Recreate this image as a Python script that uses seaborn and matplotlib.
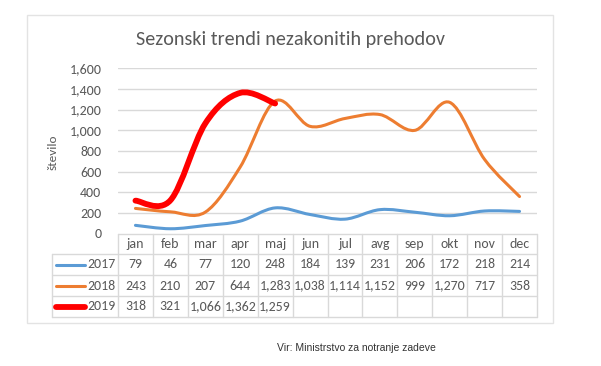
import numpy as np
import pandas as pd
import seaborn as sns
import matplotlib.pyplot as plt
from matplotlib.path import Path
from matplotlib.patches import PathPatch, Rectangle

# data
months = ["jan", "feb", "mar", "apr", "maj", "jun", "jul", "avg", "sep", "okt", "nov", "dec"]
years = ["2017", "2018", "2019"]
v2017 = [79, 46, 77, 120, 248, 184, 139, 231, 206, 172, 218, 214]
v2018 = [243, 210, 207, 644, 1283, 1038, 1114, 1152, 999, 1270, 717, 358]
v2019 = [318, 321, 1066, 1362, 1259]
yticks = [0, 200, 400, 600, 800, 1000, 1200, 1400, 1600]

colors = {"2017": "#5B9BD5", "2018": "#ED7D31", "2019": "#FF0000"}
widths = {"2017": 2.2, "2018": 2.2, "2019": 4.2}
GRAY = "#595959"
GRID = "#D9D9D9"

sns.set_theme(style="white")
plt.rcParams['font.family'] = ['Carlito', 'Lato', 'DejaVu Sans']

rows = []
for yr, vals in zip(years, [v2017, v2018, v2019]):
    for m, v in zip(months, vals):
        rows.append({"year": yr, "month": m, "value": v})
df = pd.DataFrame(rows)
df["x"] = df["month"].map({m: i for i, m in enumerate(months)})

W, H = 601, 366
fig = plt.figure(figsize=(W / 100, H / 100), dpi=100)

# plot area in pixels
L, R, T, B = 118, 537, 68.3, 233.5
ax = fig.add_axes([L / W, 1 - B / H, (R - L) / W, (B - T) / H])
ax.set_xlim(-0.5, len(months) - 0.5)
ax.set_ylim(0, 1600)
ax.set_yticks(yticks)
ax.set_yticklabels([f"{t:,}" for t in yticks], color=GRAY, fontsize=10)
ax.set_xticks([])
ax.tick_params(axis="y", length=0, pad=12)
for s in ax.spines.values():
    s.set_visible(False)
for t in yticks[1:]:
    ax.axhline(t, color=GRID, lw=1, zorder=0)


def smooth_path(xs, ys):
    # excel-like smoothed line: bezier segments through the data points
    pts = np.column_stack([xs, ys]).astype(float)
    n = len(pts)
    verts = [pts[0]]
    codes = [Path.MOVETO]
    for i in range(n - 1):
        p0 = pts[i - 1] if i > 0 else pts[i]
        p1 = pts[i]
        p2 = pts[i + 1]
        p3 = pts[i + 2] if i + 2 < n else pts[i + 1]
        c1 = p1 + (p2 - p0) / 6
        c2 = p2 - (p3 - p1) / 6
        verts += [c1, c2, p2]
        codes += [Path.CURVE4] * 3
    return Path(verts, codes)


for yr in years:
    d = df[df["year"] == yr]
    patch = PathPatch(smooth_path(d["x"], d["value"]), fill=False,
                      edgecolor=colors[yr], lw=widths[yr], capstyle="round",
                      joinstyle="round", zorder=3)
    ax.add_patch(patch)

ax.set_ylabel("")
fig.text(53 / W, 1 - 152 / H, "število", rotation=90, ha="center", va="center",
         color=GRAY, fontsize=9.5)

fig.text(290 / W, 1 - 40 / H, "Sezonski trendi nezakonitih prehodov",
         ha="center", va="center", color=GRAY, fontsize=14.5)

# overlay in pixel coordinates for border and data table
ov = fig.add_axes([0, 0, 1, 1], zorder=-1)
ov.set_xlim(0, W)
ov.set_ylim(H, 0)
ov.axis("off")
ov.patch.set_alpha(0)
ov.add_patch(Rectangle((27, 15), 553 - 27, 323 - 15, fill=False, edgecolor="#E3E3E3", lw=1))

tab = fig.add_axes([0, 0, 1, 1], zorder=5)
tab.set_xlim(0, W)
tab.set_ylim(H, 0)
tab.axis("off")
tab.patch.set_alpha(0)

col_w = (R - L) / len(months)
row_y = [234, 254, 275, 296, 317]
leg_l = 52
# horizontal lines
tab.plot([L, R], [row_y[0], row_y[0]], color=GRID, lw=1)
for y in row_y[1:]:
    tab.plot([leg_l, R], [y, y], color=GRID, lw=1)
# vertical lines
for i in range(len(months) + 1):
    x = L + i * col_w
    tab.plot([x, x], [row_y[0], row_y[-1]], color=GRID, lw=1)
tab.plot([leg_l, leg_l], [row_y[1], row_y[-1]], color=GRID, lw=1)

for i, m in enumerate(months):
    tab.text(L + (i + 0.5) * col_w, (row_y[0] + row_y[1]) / 2, m, ha="center",
             va="center", color=GRAY, fontsize=10)

for r, (yr, vals) in enumerate(zip(years, [v2017, v2018, v2019])):
    yc = (row_y[r + 1] + row_y[r + 2]) / 2
    tab.plot([56, 85], [yc, yc], color=colors[yr], lw=widths[yr], solid_capstyle="round")
    tab.text(116, yc, yr, ha="right", va="center", color=GRAY, fontsize=10)
    for i, v in enumerate(vals):
        tab.text(L + (i + 0.5) * col_w, yc, f"{v:,}", ha="center", va="center",
                 color=GRAY, fontsize=10)

fig.text(356 / W, 1 - 348 / H, "Vir: Ministrstvo za notranje zadeve", ha="center",
         va="center", color="#333333", fontsize=7.5, family="Liberation Sans")

fig.savefig("out.png", dpi=100)
